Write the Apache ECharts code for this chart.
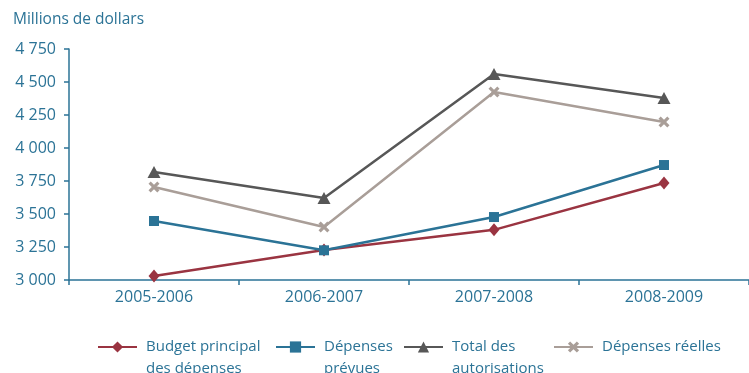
<!DOCTYPE html>
<html>
<head>
<meta charset="utf-8">
<script src="https://cdn.jsdelivr.net/npm/echarts@6/dist/echarts.min.js"></script>
<style>
  html, body { margin: 0; padding: 0; background: #fff; }
  #chart { width: 749px; height: 373px; }
</style>
</head>
<body>
<div id="chart"></div>
<script>
// Exercices financiers
const categories = ['2005-2006', '2006-2007', '2007-2008', '2008-2009'];

// Valeurs en millions de dollars
const budgetPrincipal = [3030, 3227, 3380, 3735];
const depensesPrevues = [3447, 3225, 3477, 3871];
const totalAutorisations = [3818, 3621, 4561, 4379];
const depensesReelles = [3705, 3402, 4424, 4197];

const yTicks = [3000, 3250, 3500, 3750, 4000, 4250, 4500, 4750];

const seriesNames = [
  'Budget principal\ndes dépenses',
  'Dépenses\nprévues',
  'Total des\nautorisations',
  'Dépenses réelles'
];

const TEAL = '#2b7396';
const FONT = '"Open Sans", sans-serif';
const CROSS = 'path://M2,0L5,3L8,0L10,2L7,5L10,8L8,10L5,7L2,10L0,8L3,5L0,2Z';
const LINE_H = 22;
const LEGEND_MID = 347;

const fmt = v => String(v).replace(/\B(?=(\d{3})+(?!\d))/g, ' ');

const chart = echarts.init(document.getElementById('chart'), null, { renderer: 'canvas' });

// One legend block per series; multi-line names keep their first line level with the icon
function legendAt(name, left) {
  const lines = name.split('\n').length;
  const shown = lines > 1 ? lines * 2 - 1 : 1;
  return {
    data: [name],
    left: left,
    top: LEGEND_MID - (shown * LINE_H) / 2,
    padding: 0,
    itemWidth: 39,
    itemHeight: 14,
    itemGap: 0,
    selectedMode: false,
    formatter: n => (lines > 1 ? '\n'.repeat(lines - 1) : '') + n,
    textStyle: {
      color: TEAL,
      fontFamily: FONT,
      fontSize: 15,
      lineHeight: LINE_H,
      padding: [0, 0, 0, 4]
    }
  };
}

const option = {
  animation: false,
  backgroundColor: '#ffffff',
  textStyle: { fontFamily: FONT },
  title: {
    text: 'Millions de dollars',
    left: 8,
    top: 7,
    textStyle: { color: TEAL, fontFamily: FONT, fontSize: 15.5, fontWeight: 'normal' }
  },
  grid: { left: 69, right: 0, top: 49, bottom: 93, containLabel: false },
  legend: [
    legendAt(seriesNames[0], 97),
    legendAt(seriesNames[1], 275),
    legendAt(seriesNames[2], 403),
    legendAt(seriesNames[3], 553)
  ],
  xAxis: {
    type: 'category',
    data: categories,
    boundaryGap: true,
    axisLine: { show: true, lineStyle: { color: TEAL, width: 1.5 } },
    axisTick: { show: true, length: 5, lineStyle: { color: TEAL, width: 1.5 } },
    axisLabel: { color: TEAL, fontFamily: FONT, fontSize: 16, margin: 9 },
    splitLine: { show: false }
  },
  yAxis: {
    type: 'value',
    min: yTicks[0],
    max: yTicks[yTicks.length - 1],
    interval: 250,
    axisLine: { show: true, lineStyle: { color: TEAL, width: 1.5 } },
    axisTick: { show: true, length: 5, lineStyle: { color: TEAL, width: 1.5 } },
    axisLabel: { color: TEAL, fontFamily: FONT, fontSize: 16, margin: 13, formatter: fmt },
    splitLine: { show: false }
  },
  series: [
    {
      name: seriesNames[0], type: 'line', data: budgetPrincipal,
      symbol: 'diamond', symbolSize: [11, 13],
      color: '#9a3441',
      lineStyle: { width: 2.5, color: '#9a3441' },
      itemStyle: { color: '#9a3441' }
    },
    {
      name: seriesNames[1], type: 'line', data: depensesPrevues,
      symbol: 'rect', symbolSize: 10,
      color: '#2b7396',
      lineStyle: { width: 2.5, color: '#2b7396' },
      itemStyle: { color: '#2b7396' }
    },
    {
      name: seriesNames[2], type: 'line', data: totalAutorisations,
      symbol: 'triangle', symbolSize: [13, 12],
      color: '#575757',
      lineStyle: { width: 2.5, color: '#575757' },
      itemStyle: { color: '#575757' }
    },
    {
      name: seriesNames[3], type: 'line', data: depensesReelles,
      symbol: CROSS, symbolSize: 11,
      color: '#a99e98',
      lineStyle: { width: 2.5, color: '#a99e98' },
      itemStyle: { color: '#a99e98' }
    }
  ]
};

chart.setOption(option);
</script>
</body>
</html>
